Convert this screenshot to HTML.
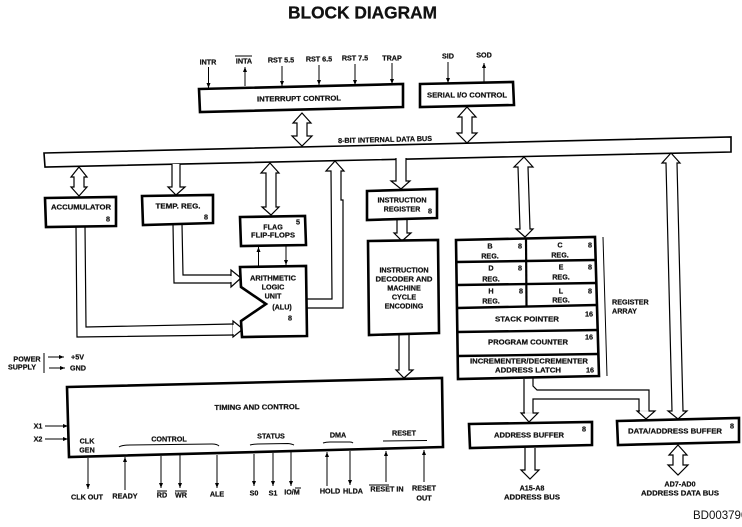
<!DOCTYPE html>
<html><head><meta charset="utf-8"><style>
html,body{margin:0;padding:0;background:#fff}
svg{display:block;width:742px;height:527px;overflow:hidden}
text{font-family:"Liberation Sans",sans-serif;font-weight:bold;font-size:7.2px;fill:#111;stroke:#111;stroke-width:.22;text-anchor:middle;dominant-baseline:central}
.l{text-anchor:start}
.b{fill:#fff;stroke:#000;stroke-width:2.6}
.a{fill:#fff;stroke:#000;stroke-width:1.2;stroke-linejoin:miter}
.n{fill:none;stroke:#000;stroke-width:1.2}
.o{fill:none;stroke:#000;stroke-width:1.2}
.s{stroke:#000;stroke-width:1;marker-end:url(#m)}
.t{stroke:#000;stroke-width:1}
.br{fill:none;stroke:#000;stroke-width:1}
</style></head><body>
<svg viewBox="0 0 742 527" xmlns="http://www.w3.org/2000/svg">
<defs><marker id="m" markerWidth="6" markerHeight="6" refX="5" refY="2" orient="auto" markerUnits="userSpaceOnUse"><path d="M0 0L5 2L0 4Z" fill="#000"/></marker></defs>

<text x="362.500" y="12.500" style="font-size:17.500px;stroke-width:.3" textLength="149" lengthAdjust="spacingAndGlyphs">BLOCK  DIAGRAM</text>

<!-- top signals -->
<text x="208" y="62">INTR</text>
<text x="244" y="61">INTA</text><line class="t" x1="235" x2="252" y1="56" y2="56"/>
<text x="281" y="60">RST 5.5</text>
<text x="319" y="59">RST 6.5</text>
<text x="355" y="58">RST 7.5</text>
<text x="392" y="58">TRAP</text>
<text x="448" y="56">SID</text>
<text x="484" y="55">SOD</text>
<line class="s" x1="208.500" y1="67" x2="208.500" y2="88"/>
<line class="s" x1="245" y1="86" x2="245" y2="67"/>
<line class="s" x1="282" y1="66" x2="282" y2="86"/>
<line class="s" x1="319" y1="65" x2="319" y2="85"/>
<line class="s" x1="355" y1="64" x2="355" y2="85"/>
<line class="s" x1="392" y1="63" x2="392" y2="84"/>
<line class="s" x1="448" y1="62" x2="448" y2="83"/>
<line class="s" x1="484" y1="82" x2="484" y2="63"/>

<!-- bus -->
<polygon points="44,153 731,137 731,152 45,167" fill="#fff" stroke="#000" stroke-width="1.600"/>
<text x="385" y="139.500" transform="rotate(-1.300 385 139.500)">8-BIT INTERNAL DATA BUS</text>

<!-- blocks -->
<polygon class="b" points="199,89 403,84 403,107 200,112"/>
<text x="299" y="98.500" transform="rotate(-.7 299 98.500)" textLength="84" lengthAdjust="spacingAndGlyphs">INTERRUPT CONTROL</text>
<polygon class="b" points="420,84 513,82 514,105 420,107"/>
<text x="467" y="95" textLength="80" lengthAdjust="spacingAndGlyphs">SERIAL I/O CONTROL</text>

<!-- double arrows -->
<polygon class="a" points="302,113 311,123 307,123 307,136 312,136 302,146 292,136 297,136 297,123 293,123"/>
<polygon class="a" points="467,107 476,117 472,117 472,133 477,133 467,143 457,133 462,133 462,117 458,117"/>
<polygon class="a" points="79,167 87,177 84,177 84,187 87,187 79,196 71,187 74,187 74,177 71,177"/>
<polygon class="a" points="270,163 279,173 276,173 276,207 279,207 271,215 262,207 266,207 266,173 261,173"/>
<polygon class="a" points="524,157 533,167 528,167 530,229 533,229 525,237 516,229 520,229 518,167 514,167"/>
<polygon class="a" points="678,445 687,455 683,455 683,465 688,465 678,475 668,465 673,465 673,455 669,455"/>
<!-- temp down -->
<polyline class="a" points="172,164 172,187 168,187 176,195 185,187 180,187 180,164" />
<!-- instr down -->
<polyline class="a" points="396,158 396,181 391,181 401,189 410,181 406,181 406,158"/>
<polyline class="a" points="397,219 397,233 394,233 402,241 411,233 407,233 407,219"/>
<polyline class="a" points="399,335 399,370 396,370 404,378 413,370 409,370 409,335"/>
<!-- right up arrow -->
<polygon class="a" points="671,153 680,163 677,163 683,411 687,411 678,419 668,411 672,411 666,163 662,163"/>
<!-- ALU return up -->
<polygon points="331,171 326,171 335,161 344,171 341,171 341,200 343,200 343,308 306,308 306,299 332,299" fill="#fff" stroke="#000" stroke-width="1.200"/>

<polygon class="b" points="45,198 116,197 116,226 46,227"/>
<text x="81" y="207" textLength="60" lengthAdjust="spacingAndGlyphs">ACCUMULATOR</text><text x="108" y="219">8</text>
<polygon class="b" points="142,196 213,195 213,223 143,225"/>
<text x="178" y="206" textLength="45" lengthAdjust="spacingAndGlyphs">TEMP. REG.</text><text x="206" y="217">8</text>
<polygon class="b" points="240,217 305,216 306,245 241,246"/>
<text x="273" y="227">FLAG</text><text x="273" y="235" textLength="44" lengthAdjust="spacingAndGlyphs">FLIP-FLOPS</text><text x="298" y="222">5</text>
<line class="s" x1="258.500" y1="266" x2="258.500" y2="247"/>
<line class="s" x1="286" y1="246" x2="286" y2="265"/>

<!-- acc->ALU -->
<polyline class="o" points="76,226 77,337 233,335"/>
<polyline class="o" points="85,226 86,327 233,324"/>
<polygon class="a" points="233,321 243,329 233,337 233,335 233,324"/>
<line x1="233.500" y1="325" x2="233.500" y2="334" stroke="#fff" stroke-width="1.500"/>
<!-- temp->ALU -->
<polyline class="o" points="173,224 174,283 232,283"/>
<polyline class="o" points="182,224 183,275 232,275"/>
<polygon class="a" points="231,270 241,278 231,287"/>
<line x1="231" y1="276" x2="231" y2="282" stroke="#fff" stroke-width="1.500"/>

<polygon class="b" points="240,267 306,266 307,336 242,337 241,321 266,304 241,287"/>
<text x="273" y="278" textLength="46" lengthAdjust="spacingAndGlyphs">ARITHMETIC</text>
<text x="273" y="287">LOGIC</text><text x="273" y="296">UNIT</text><text x="282" y="307">(ALU)</text><text x="290" y="318">8</text>

<polygon class="b" points="367,191 437,189 437,218 367,220"/>
<text x="402" y="200">INSTRUCTION</text><text x="402" y="209">REGISTER</text><text x="430" y="211">8</text>
<polygon class="b" points="368,241 438,240 439,333 369,335"/>
<text x="404" y="270">INSTRUCTION</text><text x="404" y="279" textLength="57" lengthAdjust="spacingAndGlyphs">DECODER AND</text>
<text x="404" y="288">MACHINE</text><text x="404" y="297">CYCLE</text><text x="404" y="306">ENCODING</text>

<!-- registers -->
<polygon class="b" points="456,240 595,237 599,376 458,379"/>
<polyline class="n" style="stroke-width:2.4" points="456,262 596,260"/>
<polyline class="n" style="stroke-width:2.4" points="457,285 596,283"/>
<polyline class="n" style="stroke-width:2.4" points="457,308 597,305"/>
<polyline class="n" style="stroke-width:2.4" points="457,332 598,330"/>
<polyline class="n" style="stroke-width:2.4" points="458,356 598,354"/>
<line x1="526" y1="239" x2="526.500" y2="307" stroke="#000" stroke-width="2.200"/>
<line x1="603" y1="237" x2="607" y2="376" stroke="#000" stroke-width="1"/>
<text x="490" y="246">B</text><text x="490" y="256">REG.</text><text x="520" y="246">8</text>
<text x="560" y="245">C</text><text x="560" y="255">REG.</text><text x="590" y="245">8</text>
<text x="491" y="268">D</text><text x="491" y="279">REG.</text><text x="520" y="268">8</text>
<text x="561" y="267">E</text><text x="561" y="277">REG.</text><text x="590" y="267">8</text>
<text x="491" y="291">H</text><text x="491" y="301">REG.</text><text x="521" y="291">8</text>
<text x="561" y="291">L</text><text x="561" y="300">REG.</text><text x="590" y="291">8</text>
<text x="527" y="319" textLength="64" lengthAdjust="spacingAndGlyphs">STACK POINTER</text><text x="589" y="314">16</text>
<text x="528" y="342" textLength="80" lengthAdjust="spacingAndGlyphs">PROGRAM COUNTER</text><text x="589" y="337">16</text>
<text x="529" y="361" textLength="118" lengthAdjust="spacingAndGlyphs">INCREMENTER/DECREMENTER</text>
<text x="528" y="370" textLength="66" lengthAdjust="spacingAndGlyphs">ADDRESS LATCH</text><text x="590" y="370">16</text>
<text class="l" x="612" y="302">REGISTER</text><text class="l" x="612" y="311">ARRAY</text>

<!-- fork arrows -->
<polyline class="o" points="524,379 524,413"/>
<polyline class="o" points="533,413 533,399 639,399 639,411"/>
<polyline class="o" points="533,378 533,386 537,390 649,390 649,411"/>
<polygon class="a" points="521,413 524,413 533,413 538,413 529,422" />
<polygon class="a" points="637,411 655,411 646,419"/>
<line x1="525" y1="413" x2="532.500" y2="413" stroke="#fff" stroke-width="1.500"/>
<line x1="640" y1="411" x2="648.500" y2="411" stroke="#fff" stroke-width="1.500"/>

<polygon class="b" points="469,424 592,422 592,445 470,448"/>
<text x="529" y="435" textLength="70" lengthAdjust="spacingAndGlyphs">ADDRESS BUFFER</text><text x="584" y="429">8</text>
<polygon class="b" points="617,421 739,418 739,442 618,445"/>
<text x="675" y="431" textLength="94" lengthAdjust="spacingAndGlyphs">DATA/ADDRESS BUFFER</text><text x="732" y="426">8</text>
<polyline class="a" points="525,448 525,470 521,470 530,479 539,470 535,470 535,448"/>
<text x="532" y="488">A15-A8</text><text x="532" y="497" textLength="56" lengthAdjust="spacingAndGlyphs">ADDRESS BUS</text>
<text x="680" y="484">AD7-AD0</text><text x="680" y="493" textLength="78" lengthAdjust="spacingAndGlyphs">ADDRESS DATA BUS</text>

<text x="693" y="516" class="l" style="font-size:11.500px;font-weight:normal;stroke:none">BD003790</text>

<!-- power -->
<text x="27" y="359">POWER</text><text x="22" y="367">SUPPLY</text>
<line x1="44" y1="353" x2="44" y2="373" stroke="#000" stroke-width="1"/>
<line class="s" x1="48" y1="357" x2="64" y2="357"/><text class="l" x="71" y="357">+5V</text>
<line class="s" x1="49" y1="368" x2="65" y2="368"/><text class="l" x="70" y="368">GND</text>

<!-- timing -->
<polygon class="b" points="67,387 442,378 443,447 69,457"/>
<text x="257" y="407" transform="rotate(-.6 257 407)" textLength="85" lengthAdjust="spacingAndGlyphs">TIMING AND CONTROL</text>
<text x="38" y="426">X1</text><text x="38" y="439">X2</text>
<line class="s" x1="45" y1="426" x2="68" y2="426"/><line class="s" x1="45" y1="439" x2="68" y2="439"/>
<text x="87" y="441">CLK</text><text x="87" y="450">GEN</text>
<text x="169" y="439">CONTROL</text><path class="br" d="M119 447Q122 445 130 445L212 444Q217 444 219 446"/>
<text x="271" y="436">STATUS</text><path class="br" d="M250 445Q253 444 258 444L288 443.500Q292 444 294 445"/>
<text x="338" y="435">DMA</text><path class="br" d="M323 443Q326 442 330 442L350 442Q352 442 353 443"/>
<text x="404" y="433">RESET</text><path class="br" d="M383 441L427 440.500"/>

<line class="s" x1="88" y1="458" x2="88" y2="489"/><text x="87" y="497">CLK OUT</text>
<line class="s" x1="125" y1="490" x2="125" y2="457"/><text x="125" y="496">READY</text>
<line class="s" x1="161" y1="456" x2="161" y2="488"/><text x="162" y="495">RD</text><line class="t" x1="157" x2="167" y1="491" y2="491"/>
<line class="s" x1="180" y1="455" x2="180" y2="488"/><text x="181" y="495">WR</text><line class="t" x1="175" x2="187" y1="491" y2="491"/>
<line class="s" x1="217" y1="455" x2="217" y2="488"/><text x="217" y="494">ALE</text>
<line class="s" x1="254" y1="454" x2="254" y2="486"/><text x="254" y="493">S0</text>
<line class="s" x1="273" y1="453" x2="273" y2="486"/><text x="273" y="493">S1</text>
<line class="s" x1="291" y1="452" x2="291" y2="486"/><text x="292" y="492">IO/M</text><line class="t" x1="295" x2="301" y1="488" y2="488"/>
<line class="s" x1="327" y1="486" x2="327" y2="452"/><text x="330" y="491">HOLD</text>
<line class="s" x1="350" y1="451" x2="350" y2="485"/><text x="353" y="491">HLDA</text>
<line class="s" x1="386" y1="482" x2="386" y2="451"/><text x="387" y="489">RESET IN</text><line class="t" x1="369" x2="389" y1="485" y2="485"/>
<line class="s" x1="424" y1="482" x2="424" y2="450"/><text x="424" y="488">RESET</text><text x="424" y="498">OUT</text>
</svg>
</body></html>
